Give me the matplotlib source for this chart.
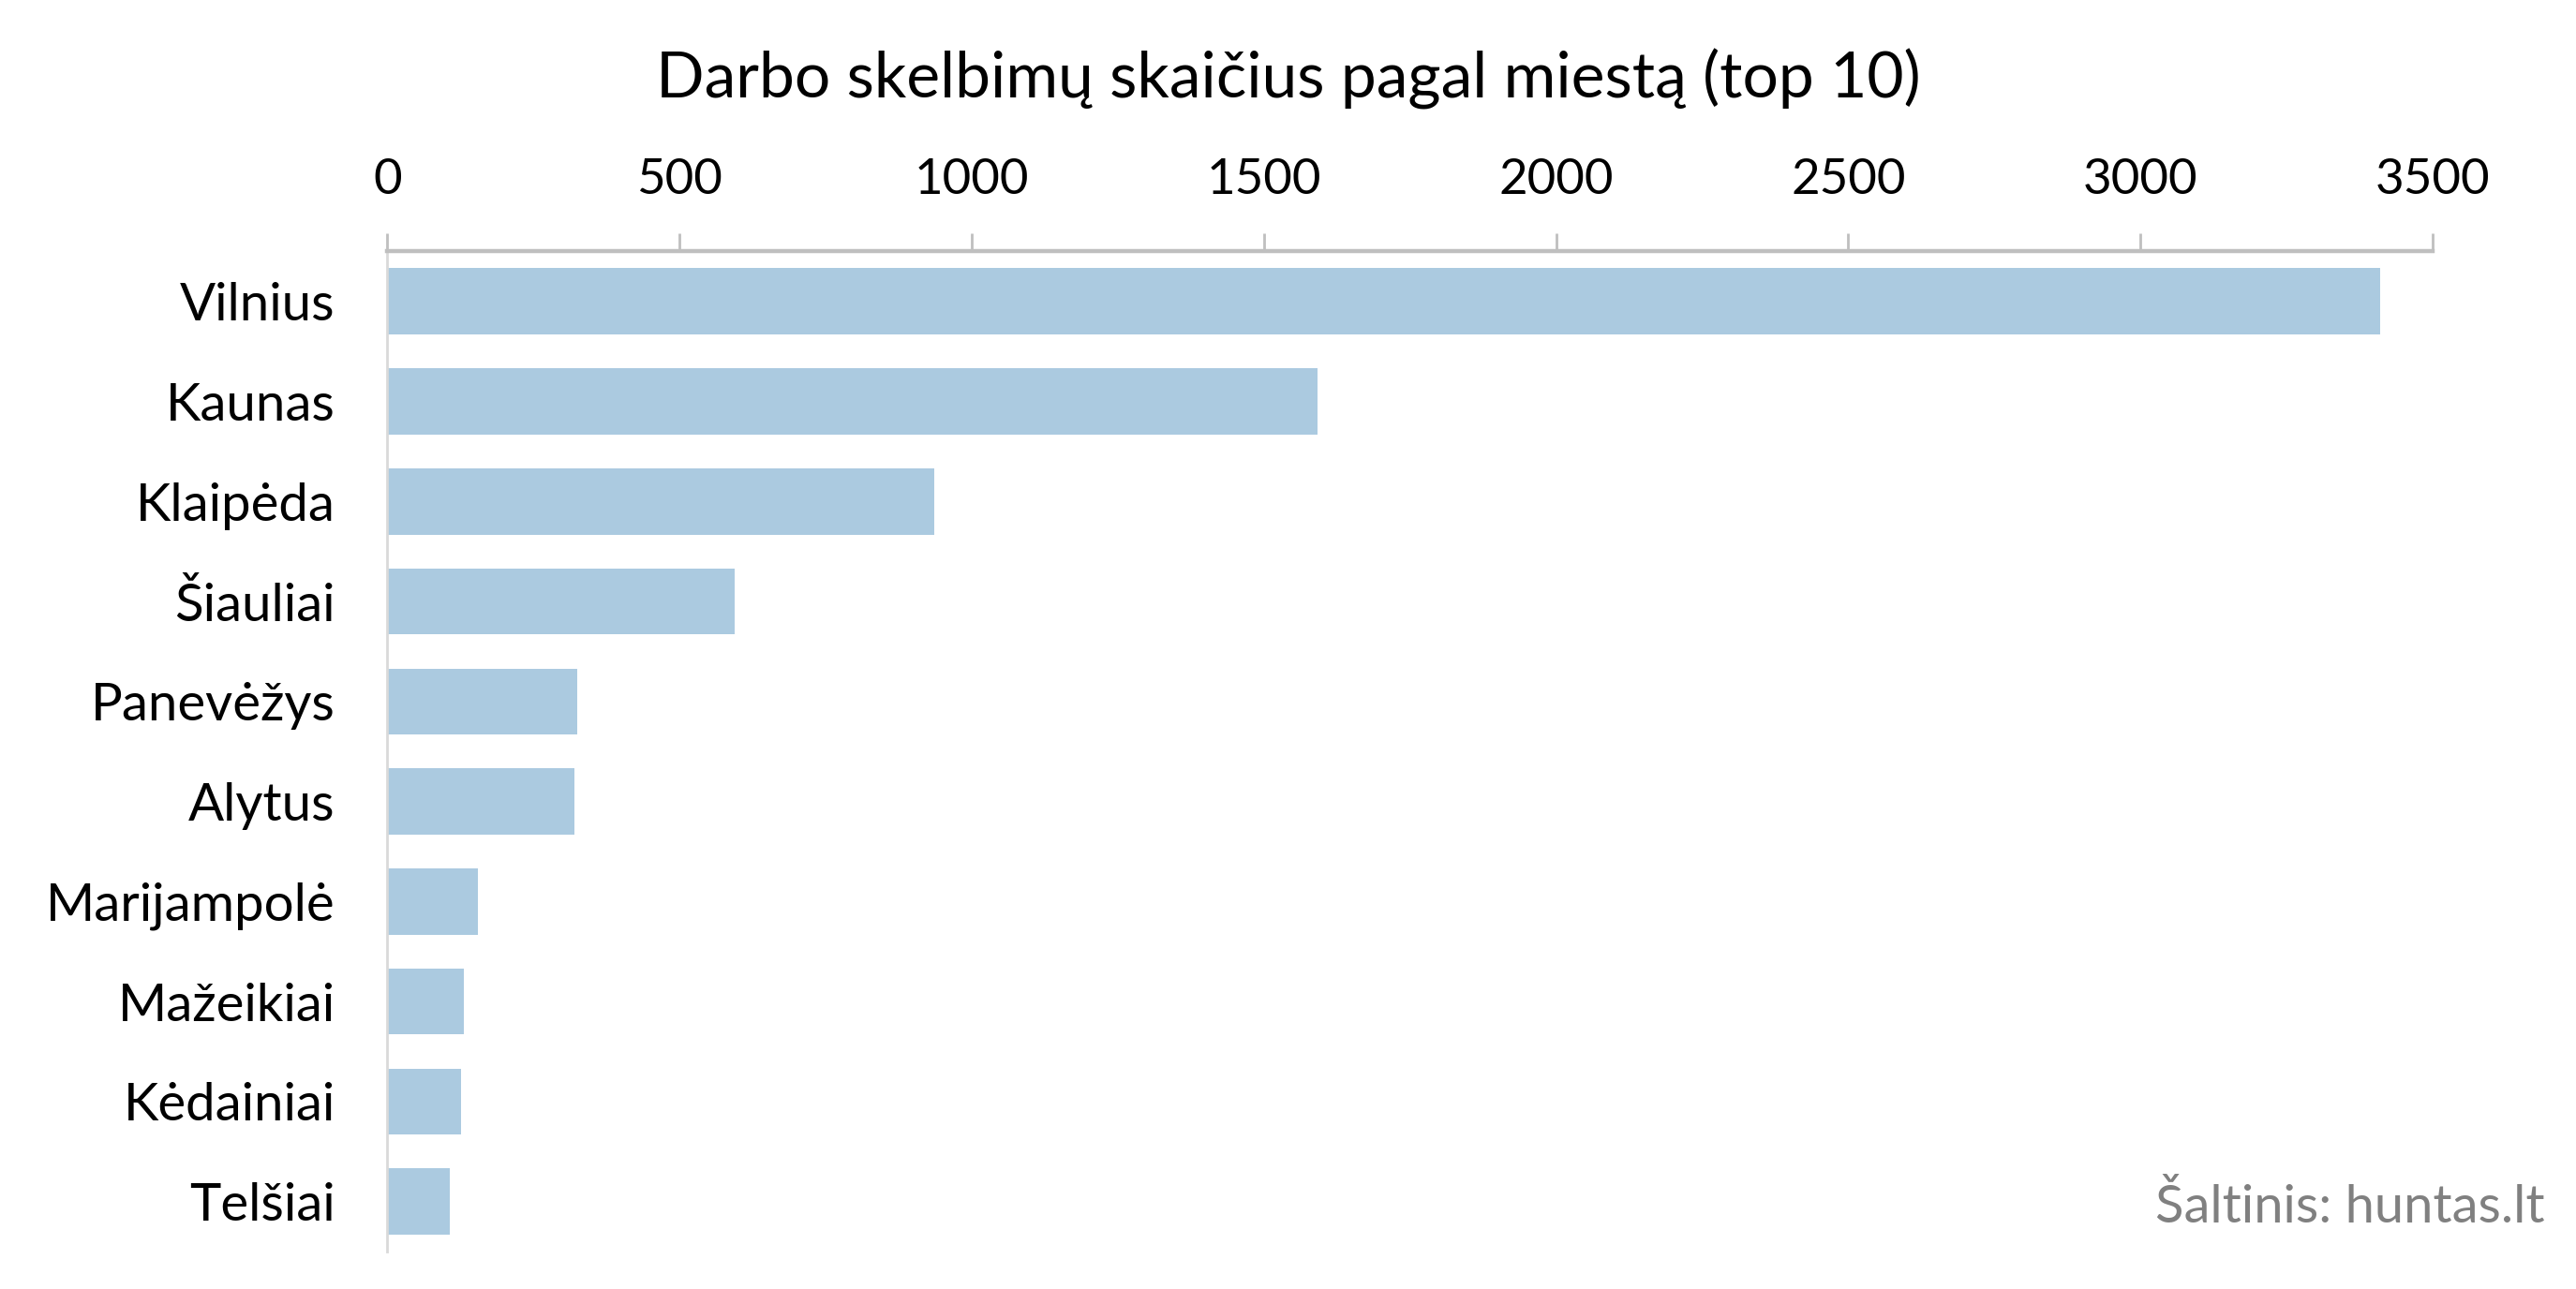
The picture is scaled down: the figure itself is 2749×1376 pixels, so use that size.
import matplotlib
matplotlib.use("Agg")
import matplotlib.pyplot as plt

cities = ["Vilnius", "Kaunas", "Klaipėda", "Šiauliai", "Panevėžys", "Alytus",
          "Marijampolė", "Mažeikiai", "Kėdainiai", "Telšiai"]
counts = [3411, 1592, 936, 594, 325, 320, 155, 131, 126, 107]
xticks = [0, 500, 1000, 1500, 2000, 2500, 3000, 3500]

title = "Darbo skelbimų skaičius pagal miestą (top 10)"
source = "Šaltinis: huntas.lt"

plt.rcParams['font.family'] = ['Lato', 'DejaVu Sans']

fig = plt.figure(figsize=(2749/200, 1376/200), dpi=200)
ax = fig.add_axes([0.1504, 0.029, 0.9443 - 0.1504, 0.805 - 0.029])

ypos = list(range(len(cities)))
ax.barh(ypos, counts, height=0.66, color="#abcae0", zorder=2)
ax.set_ylim(len(cities) - 0.5, -0.5)
ax.set_xlim(0, 3500)

ax.set_yticks(ypos)
ax.set_yticklabels(cities, fontsize=20.3)
ax.tick_params(axis='y', length=0, pad=20)

ax.xaxis.tick_top()
ax.set_xticks(xticks)
ax.set_xticklabels([str(t) for t in xticks], fontsize=19)
ax.tick_params(axis='x', direction='out', length=7, width=1.0, color="#bfbfbf", pad=12)

for s in ['right', 'bottom']:
    ax.spines[s].set_visible(False)
ax.spines['top'].set_color("#bfbfbf")
ax.spines['top'].set_linewidth(1.6)
ax.spines['left'].set_color("#d9d9d9")
ax.spines['left'].set_linewidth(1.0)

fig.text(0.5, 0.939, title, ha='center', va='center', fontsize=24.4, color='black')
fig.text(0.988, 0.063, source, ha='right', va='center', fontsize=20.2, color="#808080")

fig.savefig("out.png", dpi=200)
